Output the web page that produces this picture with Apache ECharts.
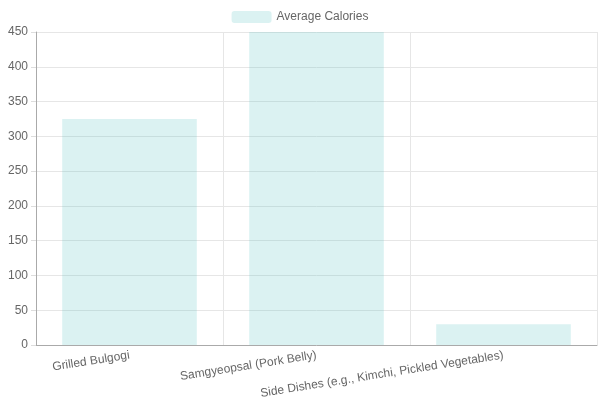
<!DOCTYPE html>
<html lang="en">
<head>
    <meta charset="UTF-8">
    <script src="https://cdn.jsdelivr.net/npm/echarts@6/dist/echarts.min.js"></script>
</head>
<body style="margin:0">
    <div id="main" style="width: 600px; height: 400px;"></div>
    <script>
        var dishes = ['Grilled Bulgogi', 'Samgyeopsal (Pork Belly)', 'Side Dishes (e.g., Kimchi, Pickled Vegetables)'];
        var avgCalories = [325, 450, 30];

        var chart = echarts.init(document.getElementById('main'));

        chart.setOption({
            animation: false,
            textStyle: { fontFamily: 'Liberation Sans, Arial, sans-serif' },
            legend: {
                top: 6,
                itemWidth: 40,
                itemHeight: 12,
                itemGap: 10,
                textStyle: { color: '#666', fontSize: 12 },
                data: ['Average Calories']
            },
            grid: { left: 36, right: 3, top: 32, bottom: 54 },
            xAxis: {
                type: 'category',
                data: dishes,
                axisLine: { lineStyle: { color: '#aaa' } },
                axisTick: { length: 9, lineStyle: { color: '#ddd' } },
                axisLabel: { rotate: 9, margin: 10, color: '#666', fontSize: 12, interval: 0 },
                splitLine: { show: true, lineStyle: { color: '#e6e6e6' } }
            },
            yAxis: {
                type: 'value',
                min: 0,
                max: 450,
                interval: 50,
                axisLine: { show: true, lineStyle: { color: '#aaa' } },
                axisTick: { show: true, length: 5, lineStyle: { color: '#ddd' } },
                axisLabel: { margin: 8, color: '#666', fontSize: 12 },
                splitLine: { lineStyle: { color: '#e6e6e6' } }
            },
            series: [{
                name: 'Average Calories',
                type: 'bar',
                data: avgCalories,
                barCategoryGap: '28%',
                itemStyle: { color: 'rgba(75, 192, 192, 0.2)' }
            }]
        });
    </script>
</body>
</html>
